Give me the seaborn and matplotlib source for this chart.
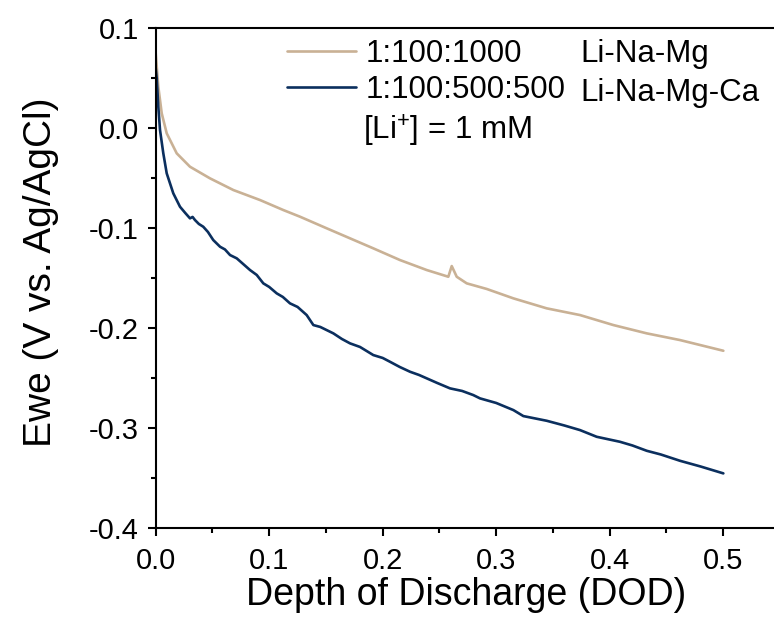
import numpy as np
import pandas as pd
import matplotlib
matplotlib.use("Agg")
import matplotlib.pyplot as plt
from matplotlib.ticker import MultipleLocator
from matplotlib.lines import Line2D
import seaborn as sns

# ---- data ----
dod_linamg = [0.0, 0.0023, 0.0053, 0.0097, 0.0185, 0.0302, 0.0478, 0.0684, 0.0919,
              0.1124, 0.1272, 0.1507, 0.1712, 0.1917, 0.2152, 0.2388, 0.2578, 0.2608,
              0.2652, 0.2740, 0.2916, 0.3151, 0.3445, 0.3738, 0.4032, 0.4326, 0.4619, 0.5001]
ewe_linamg = [0.0746, 0.0412, 0.0146, -0.0054, -0.0254, -0.0388, -0.0504, -0.0621, -0.0721,
              -0.0821, -0.0888, -0.1004, -0.1104, -0.1204, -0.1321, -0.1421, -0.1488, -0.1381,
              -0.1488, -0.1554, -0.1610, -0.1704, -0.1804, -0.1871, -0.1971, -0.2054, -0.2121, -0.2228]

dod_linamgca = [0.0, 0.0009, 0.0023, 0.0038, 0.0067, 0.0097, 0.0155, 0.0214, 0.0260, 0.0302, 0.0325, 0.0346,
                0.0380, 0.0419, 0.0460, 0.0507, 0.0567, 0.0610, 0.0655, 0.0714, 0.0770, 0.0831, 0.0890,
                0.0948, 0.1000, 0.1066, 0.1120, 0.1183, 0.1250, 0.1330,
                0.1389, 0.1450, 0.1565, 0.1640, 0.1712, 0.1800, 0.1917, 0.2000, 0.2064, 0.2150, 0.2241,
                0.2320, 0.2388, 0.2480, 0.2593, 0.2700, 0.2798, 0.2857,
                0.3000, 0.3151, 0.3239, 0.3445, 0.3600, 0.3738, 0.3885, 0.4090, 0.4200, 0.4326,
                0.4450, 0.4619, 0.4800, 0.5001]
ewe_linamgca = [0.060, 0.0496, 0.0212, -0.0021, -0.0254, -0.0454, -0.0654, -0.0788, -0.0850, -0.0904, -0.0890, -0.0921,
                -0.0960, -0.0988, -0.1040, -0.1121, -0.1188, -0.1215, -0.1271, -0.1304, -0.1360, -0.1421, -0.1470,
                -0.1554, -0.1590, -0.1654, -0.1690, -0.1754, -0.1790, -0.1871,
                -0.1971, -0.1990, -0.2054, -0.2110, -0.2154, -0.2190, -0.2271, -0.2300, -0.2338, -0.2390, -0.2438,
                -0.2470, -0.2504, -0.2550, -0.2604, -0.2630, -0.2671, -0.2704,
                -0.2750, -0.2821, -0.2881, -0.2928, -0.2975, -0.3021, -0.3088, -0.3138, -0.3175, -0.3228,
                -0.3265, -0.3328, -0.3385, -0.3454]

series_labels = ["1:100:1000", "1:100:500:500"]
system_labels = ["Li-Na-Mg", "Li-Na-Mg-Ca"]
note_label = "[Li$^{+}$] = 1 mM"
colors = ["#C9B195", "#0B2F5E"]

df = pd.concat([
    pd.DataFrame({"DOD": dod_linamg, "Ewe": ewe_linamg, "series": series_labels[0]}),
    pd.DataFrame({"DOD": dod_linamgca, "Ewe": ewe_linamgca, "series": series_labels[1]}),
], ignore_index=True)

sns.set_style("ticks")
plt.rcParams["font.family"] = ["Liberation Sans", "DejaVu Sans"]
plt.rcParams["mathtext.fontset"] = "custom"
plt.rcParams["mathtext.rm"] = "Liberation Sans"
plt.rcParams["text.color"] = "black"
plt.rcParams["axes.labelcolor"] = "black"

fig = plt.figure(figsize=(7.74, 6.33), dpi=100)
ax_w = (780 - 155.7)
ax_h = (528 - 27.9)
ax = fig.add_axes([155.7 / 774, 1 - 528 / 633, ax_w / 774, ax_h / 633])

sns.lineplot(data=df, x="DOD", y="Ewe", hue="series", palette=colors,
             estimator=None, sort=False, linewidth=1.9, ax=ax, legend=False)

ax.set_xlim(0, 0.55)
ax.set_ylim(-0.4, 0.1)
ax.xaxis.set_minor_locator(MultipleLocator(0.05))
ax.yaxis.set_minor_locator(MultipleLocator(0.05))
ax.set_xticks([0, 0.1, 0.2, 0.3, 0.4, 0.5])
ax.set_xticklabels(["0.0", "0.1", "0.2", "0.3", "0.4", "0.5"])
ax.set_yticks([0.1, 0.0, -0.1, -0.2, -0.3, -0.4])
ax.set_yticklabels(["0.1", "0.0", "-0.1", "-0.2", "-0.3", "-0.4"])

for s in ax.spines.values():
    s.set_linewidth(1.5)
    s.set_color("black")
ax.tick_params(which="major", direction="out", length=6, width=1.5, labelsize=21,
               colors="black", pad=6)
ax.tick_params(axis="x", which="major", pad=8)
ax.tick_params(which="minor", direction="out", length=3.5, width=1.5, colors="black")

ax.set_xlabel("Depth of Discharge (DOD)", fontsize=27)
ax.set_ylabel("Ewe (V vs. Ag/AgCl)", fontsize=28)
ax.xaxis.set_label_coords((466 - 155.7) / ax_w, -(605 - 528) / ax_h)
ax.xaxis.label.set_va("baseline")
ax.yaxis.set_label_coords((41 - 155.7) / ax_w, 1 - (272 - 27.9) / ax_h)
ax.yaxis.label.set_va("center")

# legend
handles = [Line2D([], [], color=c, linewidth=1.9) for c in colors]
leg = ax.legend(handles, series_labels, loc="upper left",
                bbox_to_anchor=((287 - 155.7) / ax_w, 1 - (39 - 27.9) / ax_h),
                frameon=False, fontsize=22.5, handlelength=2.2, handletextpad=0.3,
                labelspacing=0.2, borderaxespad=0, borderpad=0)
for t in leg.get_texts():
    t.set_color("black")
ax.text((580 - 155.7) / ax_w, 1 - (54 - 27.9) / ax_h, system_labels[0],
        transform=ax.transAxes, fontsize=22.5, va="center", ha="left")
ax.text((580 - 155.7) / ax_w, 1 - (93 - 27.9) / ax_h, system_labels[1],
        transform=ax.transAxes, fontsize=22.5, va="center", ha="left")
ax.text((363 - 155.7) / ax_w, 1 - (131 - 27.9) / ax_h, note_label,
        transform=ax.transAxes, fontsize=22.5, va="center", ha="left")

fig.savefig("out.png", dpi=100)
